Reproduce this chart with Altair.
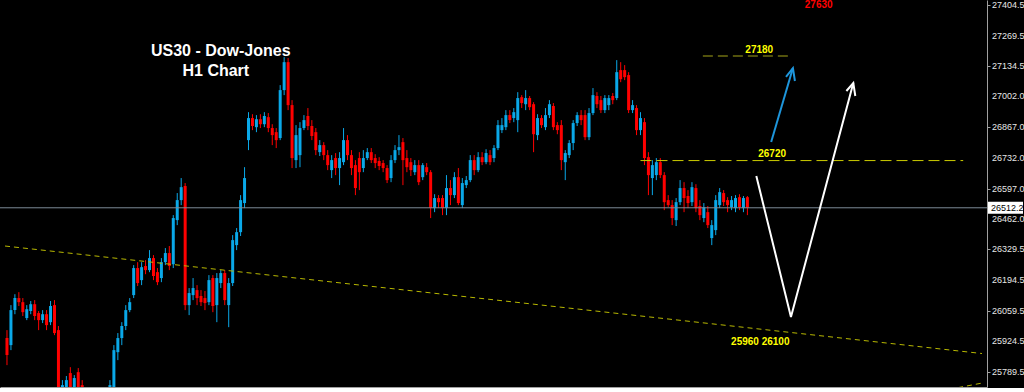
import altair as alt
import pandas as pd

# ---------------- candle data (US30, H1) ----------------
opens = [
    25939, 25908, 26062, 26115, 26097, 26027, 26058, 26088, 26049, 26018,
    26044, 26009, 26084, 25974, 25688, 25719, 25785, 25710, 25789, 25732,
    25688, 25644, 25613, 25644, 25622, 25657, 25675, 25723, 25877, 25939,
    25992, 26062, 26128, 26247, 26194, 26256, 26238, 26291, 26229, 26203,
    26273, 26313, 26264, 26458, 26546, 26608, 26084, 26128, 26150, 26124,
    26115, 26097, 26203, 26084, 26181, 26225, 26084, 26181, 26348, 26405,
    26533, 26810, 26907, 26867, 26902, 26880, 26911, 26863, 26845, 26819,
    27030, 27153, 26964, 26722, 26744, 26863, 26916, 26872, 26845, 26757,
    26788, 26744, 26678, 26731, 26687, 26713, 26810, 26744, 26700, 26731,
    26687, 26731, 26757, 26731, 26718, 26709, 26687, 26643, 26722, 26766,
    26801, 26731, 26713, 26669, 26700, 26647, 26691, 26669, 26511, 26555,
    26555, 26511, 26599, 26568, 26647, 26524, 26612, 26634, 26722, 26678,
    26735, 26713, 26744, 26731, 26775, 26854, 26867, 26920, 26907, 26898,
    26999, 26968, 26995, 26968, 26832, 26907, 26867, 26920, 26960, 26876,
    26876, 26713, 26744, 26797, 26885, 26920, 26920, 26823, 26929, 27004,
    26986, 26942, 26964, 27004, 26995, 27118, 27118, 27096, 26942, 26951,
    26854, 26889, 26735, 26643, 26656, 26713, 26656, 26546, 26524, 26458,
    26537, 26599, 26564, 26537, 26599, 26520, 26467, 26493, 26379, 26414,
    26524, 26577, 26546, 26515, 26511, 26559, 26511, 26559,
]
closes = [
    25864, 26062, 26115, 26097, 26053, 26066, 26088, 26036, 26018, 26044,
    25996, 26080, 25961, 25688, 25732, 25754, 25719, 25763, 25710, 25688,
    25644, 25613, 25644, 25622, 25657, 25684, 25732, 25886, 25939, 25992,
    26062, 26097, 26247, 26181, 26251, 26238, 26291, 26212, 26185, 26273,
    26313, 26256, 26467, 26546, 26603, 26084, 26137, 26159, 26115, 26097,
    26093, 26194, 26080, 26203, 26225, 26106, 26181, 26370, 26405, 26546,
    26643, 26907, 26872, 26902, 26880, 26916, 26863, 26832, 26810, 27030,
    27153, 26964, 26731, 26832, 26863, 26898, 26872, 26828, 26766, 26788,
    26744, 26700, 26722, 26687, 26731, 26810, 26744, 26687, 26599, 26669,
    26731, 26757, 26722, 26709, 26696, 26687, 26634, 26722, 26766, 26779,
    26722, 26691, 26678, 26700, 26625, 26700, 26669, 26511, 26555, 26537,
    26511, 26599, 26568, 26647, 26533, 26621, 26634, 26722, 26678, 26735,
    26713, 26753, 26713, 26775, 26876, 26876, 26920, 26898, 26933, 26995,
    26973, 26995, 26955, 26836, 26907, 26876, 26920, 26968, 26867, 26854,
    26722, 26753, 26797, 26885, 26920, 26898, 26823, 26929, 27008, 26968,
    26942, 26995, 26995, 26986, 27109, 27078, 27087, 26942, 26964, 26854,
    26907, 26731, 26656, 26700, 26713, 26656, 26537, 26524, 26467, 26537,
    26599, 26555, 26533, 26603, 26511, 26480, 26515, 26436, 26436, 26546,
    26581, 26537, 26524, 26546, 26555, 26515, 26555, 26512.2,
]
highs = [
    25974, 26084, 26132, 26141, 26115, 26084, 26102, 26106, 26058, 26062,
    26062, 26102, 26106, 25992, 25754, 25772, 25811, 25776, 25807, 25754,
    25701, 25675, 25666, 25675, 25684, 25701, 25754, 25908, 25961, 26009,
    26084, 26115, 26260, 26273, 26273, 26282, 26326, 26304, 26247, 26291,
    26335, 26344, 26480, 26577, 26643, 26621, 26159, 26203, 26172, 26150,
    26146, 26216, 26216, 26225, 26238, 26238, 26203, 26392, 26423, 26568,
    26691, 26933, 26924, 26920, 26924, 26933, 26929, 26880, 26863, 27052,
    27175, 27171, 26986, 26876, 26889, 26920, 26951, 26898, 26863, 26810,
    26801, 26766, 26744, 26753, 26757, 26863, 26832, 26766, 26722, 26757,
    26766, 26775, 26775, 26748, 26735, 26722, 26700, 26744, 26788, 26832,
    26819, 26766, 26731, 26722, 26722, 26709, 26709, 26678, 26572, 26568,
    26568, 26656, 26634, 26669, 26687, 26643, 26652, 26744, 26744, 26757,
    26757, 26770, 26766, 26788, 26898, 26907, 26942, 26942, 26951, 27021,
    27008, 27030, 27004, 26977, 26924, 26920, 26951, 26986, 26973, 26889,
    26898, 26766, 26810, 26898, 26933, 26942, 26942, 26951, 27039, 27021,
    27004, 27008, 27008, 27017, 27162, 27153, 27140, 27109, 26986, 26964,
    26933, 26907, 26757, 26722, 26731, 26731, 26669, 26568, 26546, 26555,
    26634, 26625, 26590, 26625, 26616, 26546, 26533, 26520, 26458, 26568,
    26599, 26590, 26559, 26564, 26568, 26572, 26564, 26564,
]
lows = [
    25820, 25886, 26044, 26080, 26036, 26018, 26044, 26018, 25974, 26005,
    25974, 25996, 25952, 25666, 25666, 25688, 25701, 25688, 25688, 25666,
    25622, 25587, 25578, 25600, 25604, 25640, 25657, 25701, 25842, 25908,
    25974, 26053, 26115, 26168, 26172, 26220, 26229, 26194, 26172, 26185,
    26260, 26238, 26247, 26436, 26524, 26062, 26040, 26106, 26084, 26080,
    26062, 26084, 26053, 26009, 26159, 26084, 25987, 26168, 26326, 26388,
    26511, 26766, 26854, 26845, 26863, 26867, 26845, 26788, 26775, 26810,
    27008, 26942, 26687, 26687, 26691, 26854, 26854, 26810, 26744, 26740,
    26722, 26678, 26643, 26656, 26612, 26700, 26722, 26656, 26568, 26590,
    26669, 26722, 26709, 26687, 26678, 26669, 26621, 26625, 26709, 26744,
    26612, 26669, 26652, 26656, 26612, 26634, 26656, 26467, 26493, 26511,
    26480, 26480, 26524, 26555, 26524, 26511, 26599, 26625, 26656, 26669,
    26700, 26704, 26700, 26713, 26766, 26841, 26854, 26885, 26889, 26845,
    26951, 26942, 26942, 26757, 26810, 26863, 26854, 26907, 26854, 26836,
    26678, 26634, 26731, 26766, 26872, 26876, 26810, 26810, 26920, 26951,
    26929, 26929, 26942, 26968, 26986, 27065, 27074, 26929, 26929, 26832,
    26832, 26700, 26568, 26568, 26634, 26643, 26502, 26515, 26436, 26432,
    26524, 26493, 26511, 26520, 26493, 26458, 26449, 26423, 26348, 26392,
    26511, 26520, 26493, 26502, 26493, 26502, 26493, 26480,
]

# price axis labels
tick_values = [27404.5, 27269.5, 27134.5, 27002.0, 26867.0, 26732.0, 26597.0,
               26462.0, 26329.5, 26194.5, 26059.5, 25924.5, 25789.5]
last_price = 26512.2

# trend lines (bar index, price)
trend_bars = [-0.5, 246.25]
trend_prices = [26344, 25871]
trend2_bars = [235.75, 246.25]
trend2_prices = [25706, 25741]

# horizontal levels
level_hi = 27180
level_hi_bars = [175.75, 197.75]
level_mid = 26720
level_mid_bars = [160, 241.5]

# projected paths
white_bars = [189.25, 198, 213.75]
white_prices = [26652, 26032, 27061]
white_head_bars = [212, 213.75, 214.25]
white_head_prices = [27026, 27061, 27004]
blue_bars = [193, 198.5]
blue_prices = [26802, 27127]
blue_head_bars = [196.75, 198.5, 199]
blue_head_prices = [27088, 27127, 27070]

# labels
yellow_labels = ["27180", "26720", "25960 26100"]
yellow_bars = [190, 193.25, 190.25]
yellow_prices = [27206, 26749, 25922]
red_labels = ["27630"]
red_bars = [205]
red_prices = [27404]
title_lines = ["US30 - Dow-Jones", "H1 Chart"]
title_bars = [54, 52.75]
title_prices = [27202, 27114]

n = min(len(opens), len(closes), len(highs), len(lows))
df = pd.DataFrame({
    "bar": list(range(n)),
    "open": opens[:n], "close": closes[:n], "high": highs[:n], "low": lows[:n],
})
df["dir"] = ["up" if c >= o else "down" for o, c in zip(df["open"], df["close"])]

xs = alt.Scale(domain=[-0.5, 246.25], nice=False, zero=False)
ys = alt.Scale(domain=[25723.7, 27426.5], nice=False, zero=False)

x_axis = alt.Axis(labels=False, ticks=False, grid=False, title=None,
                  domainColor="#a0a0a0", domainWidth=1)
y_axis = alt.Axis(orient="right", values=tick_values, grid=False, title=None,
                  labels=False, tickSize=3, tickColor="#a0a0a0",
                  domainColor="#a0a0a0")

color = alt.Color("dir:N", scale=alt.Scale(domain=["up", "down"],
                                           range=["#0AA8E8", "#FF0000"]), legend=None)

wicks = alt.Chart(df).mark_rule(strokeWidth=1, clip=True).encode(
    x=alt.X("bar:Q", scale=xs, axis=x_axis),
    y=alt.Y("low:Q", scale=ys, axis=y_axis),
    y2="high:Q",
    color=color,
)
bodies = alt.Chart(df).mark_bar(size=3, clip=True).encode(
    x=alt.X("bar:Q", scale=xs),
    y=alt.Y("open:Q", scale=ys),
    y2="close:Q",
    color=color,
)

# price-axis labels drawn as text in the right margin
tick_df = pd.DataFrame({"price": tick_values,
                        "label": [f"{v:.1f}" for v in tick_values]})
tick_labels = alt.Chart(tick_df).mark_text(
    align="left", baseline="middle", color="#e6e6e6",
    font="Liberation Sans", fontSize=9).encode(
    y=alt.Y("price:Q", scale=ys), x=alt.value(992), text="label:N")

price_df = pd.DataFrame({"price": [last_price], "label": [f"{last_price:.1f}"]})
price_line = alt.Chart(price_df).mark_rule(color="#7d8a97", strokeWidth=1).encode(
    y=alt.Y("price:Q", scale=ys))
price_box = alt.Chart(price_df).mark_rect(color="#ffffff", yOffset=-6, y2Offset=6).encode(
    y=alt.Y("price:Q", scale=ys), y2="price:Q", x=alt.value(988), x2=alt.value(1023))
price_txt = alt.Chart(price_df).mark_text(align="left", baseline="middle", color="#000000",
                                          font="Liberation Sans", fontSize=9).encode(
    y=alt.Y("price:Q", scale=ys), x=alt.value(991), text="label:N")

def line_chart(bars, prices, color, width=1, dash=None, clip=True):
    d = pd.DataFrame({"bar": bars, "price": prices, "o": list(range(len(bars)))})
    kw = dict(color=color, strokeWidth=width, clip=clip)
    if dash:
        kw["strokeDash"] = dash
    return alt.Chart(d).mark_line(**kw).encode(
        x=alt.X("bar:Q", scale=xs), y=alt.Y("price:Q", scale=ys), order="o:Q")

trend = line_chart(trend_bars, trend_prices, "#b8b800", 1, [5, 4])
trend2 = line_chart(trend2_bars, trend2_prices, "#b8b800", 1, [5, 4])
lvl_hi = line_chart(level_hi_bars, [level_hi, level_hi], "#6e6e10", 1.5, [10, 5])
lvl_mid = line_chart(level_mid_bars, [level_mid, level_mid], "#cccc00", 1, [11, 5])
white_path = line_chart(white_bars, white_prices, "#ffffff", 2)
white_head = line_chart(white_head_bars, white_head_prices, "#ffffff", 2)
blue_path = line_chart(blue_bars, blue_prices, "#1E96DC", 2)
blue_head = line_chart(blue_head_bars, blue_head_prices, "#1E96DC", 2)

def text_chart(labels, bars, prices, color, size, weight="bold"):
    d = pd.DataFrame({"bar": bars, "price": prices, "label": labels})
    return alt.Chart(d).mark_text(color=color, fontSize=size, fontWeight=weight,
                                  font="Liberation Sans", align="center",
                                  baseline="middle").encode(
        x=alt.X("bar:Q", scale=xs), y=alt.Y("price:Q", scale=ys), text="label:N")

yellow_txt = text_chart(yellow_labels, yellow_bars, yellow_prices, "#ffff00", 10)
red_txt = text_chart(red_labels, red_bars, red_prices, "#ff0000", 10)
title_txt = text_chart(title_lines, title_bars, title_prices, "#ffffff", 16)

chart = alt.layer(
    wicks, bodies, price_line, trend, trend2, lvl_hi, lvl_mid,
    white_path, white_head, blue_path, blue_head,
    yellow_txt, red_txt, title_txt,
    tick_labels, price_box, price_txt,
).properties(
    width=987, height=387, background="#000000",
    padding={"left": 0, "top": 0, "right": 37, "bottom": 1},
    autosize=alt.AutoSizeParams(type="none"),
).configure_view(stroke=None)

chart.save("out.html", embed_options={"renderer": "svg", "actions": False})
